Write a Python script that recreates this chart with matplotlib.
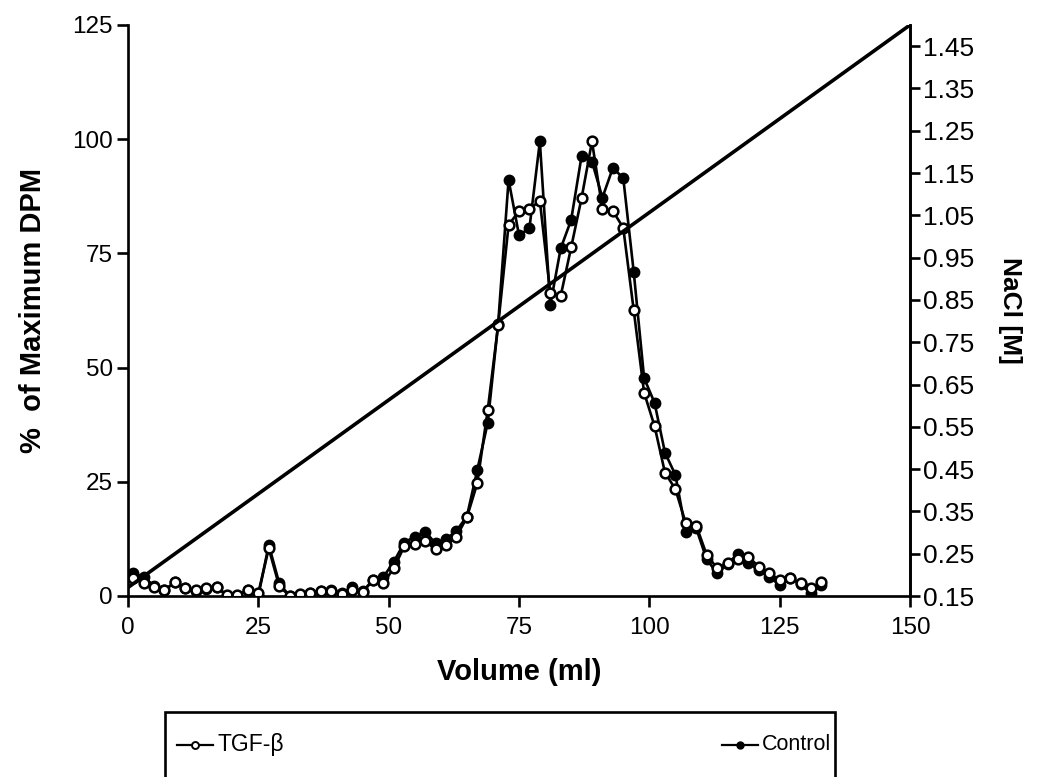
import matplotlib
matplotlib.use("Agg")
import matplotlib.pyplot as plt
from matplotlib.lines import Line2D
from matplotlib.patches import Rectangle

plt.rcParams['font.family'] = ['Liberation Sans', 'DejaVu Sans']

volume = [1, 3, 5, 7, 9, 11, 13, 15, 17, 19, 21, 23, 25, 27, 29, 31, 33, 35, 37, 39,
          41, 43, 45, 47, 49, 51, 53, 55, 57, 59, 61, 63, 65, 67, 69, 71, 73, 75, 77, 79,
          81, 83, 85, 87, 89, 91, 93, 95, 97, 99, 101, 103, 105, 107, 109, 111, 113, 115,
          117, 119, 121, 123, 125, 127, 129, 131, 133]

tgf = [3.9, 2.8, 2.0, 1.3, 3.0, 1.7, 1.3, 1.7, 2.0, 0.2, 0.2, 1.3, 0.7, 10.4, 2.2, 0.0,
       0.4, 0.6, 1.2, 1.2, 0.4, 1.3, 0.8, 3.5, 2.9, 6.1, 10.9, 11.4, 12.0, 10.2, 11.2,
       13.0, 17.2, 24.7, 40.7, 59.3, 81.2, 84.3, 84.7, 86.5, 66.3, 65.7, 76.3, 87.1, 99.5,
       84.7, 84.3, 80.6, 62.6, 44.5, 37.2, 27.0, 23.4, 15.9, 15.4, 9.0, 6.1, 7.2, 8.0,
       8.6, 6.4, 5.0, 3.5, 4.0, 2.8, 1.7, 3.1]

control = [5.0, 4.2, 2.2, 1.3, 3.0, 1.7, 1.0, 1.5, 2.0, 0.0, 0.0, 1.3, 0.0, 11.2, 2.8, 0.0,
           0.3, 0.6, 1.0, 1.4, 0.6, 1.9, 1.0, 3.5, 4.2, 7.5, 11.7, 13.0, 14.1, 11.5, 12.4,
           14.3, 17.4, 27.6, 37.9, 59.6, 91.1, 79.0, 80.5, 99.5, 63.7, 76.1, 82.3, 96.3, 95.1,
           87.2, 93.7, 91.5, 71.0, 47.7, 42.3, 31.4, 26.5, 14.1, 14.8, 8.0, 5.0, 7.0, 9.3,
           7.2, 5.7, 4.2, 2.4, 3.9, 2.6, 0.6, 2.4]

nacl_volume = [0, 150]
nacl_conc = [0.17, 1.50]

x_ticks = [0, 25, 50, 75, 100, 125, 150]
y_ticks = [0, 25, 50, 75, 100, 125]
nacl_ticks = [0.15, 0.25, 0.35, 0.45, 0.55, 0.65, 0.75, 0.85, 0.95, 1.05, 1.15, 1.25, 1.35, 1.45]

W, H = 1037, 777
fig = plt.figure(figsize=(W / 100, H / 100), dpi=100)
ax = fig.add_axes([128 / W, 1 - 596 / H, (910 - 128) / W, (596 - 25) / H])

ax.plot(volume, control, color='black', lw=1.9, marker='o', ms=7,
        mfc='black', mec='black', mew=1.5, zorder=3)
ax.plot(volume, tgf, color='black', lw=1.9, marker='o', ms=7,
        mfc='white', mec='black', mew=1.8, zorder=4)

ax.set_xlim(0, 150)
ax.set_ylim(0, 125)
ax.set_xticks(x_ticks)
ax.set_yticks(y_ticks)
ax.spines['top'].set_visible(False)
for s in ['left', 'bottom', 'right']:
    ax.spines[s].set_linewidth(1.9)
ax.tick_params(direction='out', length=8, width=1.9, labelsize=17.5)
ax.tick_params(axis='x', pad=7)
ax.tick_params(axis='y', pad=3)
ax.set_xlabel('Volume (ml)', fontsize=21, fontweight='bold', labelpad=14)
ax.set_ylabel('%  of Maximum DPM', fontsize=21, fontweight='bold', labelpad=18)

ax2 = ax.twinx()
ax2.plot(nacl_volume, nacl_conc, color='black', lw=2.6, zorder=2)
ax2.set_ylim(0.15, 1.50)
ax2.set_yticks(nacl_ticks)
ax2.set_yticklabels([f'{v:.2f}' for v in nacl_ticks])
ax2.spines['top'].set_visible(False)
ax2.spines['right'].set_linewidth(1.9)
ax2.tick_params(direction='out', length=7, width=1.9, labelsize=19, pad=2)
ax2.set_ylabel('NaCl [M]', fontsize=19, fontweight='bold', rotation=-90, labelpad=35)

# legend box (extends past the bottom edge like the reference)
fig.patches.append(Rectangle((165 / W, -0.05), (835 - 165) / W, 0.05 + (777 - 712) / H,
                             transform=fig.transFigure, fill=False, ec='black', lw=1.9))
ly = 1 - 745 / H
fig.lines.append(Line2D([177 / W, 213 / W], [ly, ly], transform=fig.transFigure,
                        color='black', lw=1.6))
fig.lines.append(Line2D([195 / W], [ly], transform=fig.transFigure, color='black',
                        marker='o', ms=5, mfc='white', mec='black', mew=1.4))
fig.text(218 / W, ly, 'TGF-β', fontsize=16.5, va='center', ha='left')
fig.lines.append(Line2D([722 / W, 758 / W], [ly, ly], transform=fig.transFigure,
                        color='black', lw=1.6))
fig.lines.append(Line2D([740 / W], [ly], transform=fig.transFigure, color='black',
                        marker='o', ms=5, mfc='black', mec='black'))
fig.text(762 / W, ly, 'Control', fontsize=15.5, va='center', ha='left')

fig.savefig('out.png', dpi=100)
